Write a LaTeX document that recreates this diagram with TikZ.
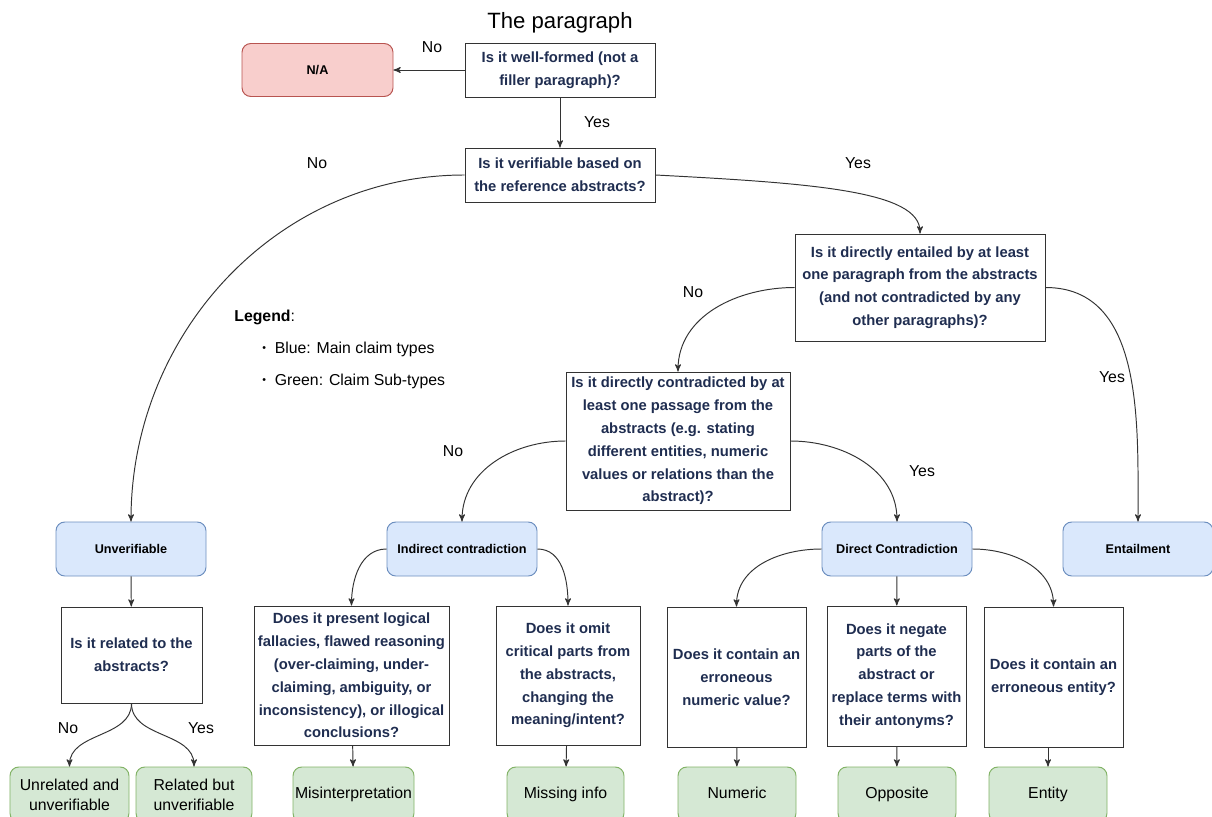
\documentclass[tikz,border=0pt]{standalone}
\usepackage{fontspec}
\setmainfont{Liberation Sans}
\usetikzlibrary{arrows,positioning}
\definecolor{qtext}{HTML}{1F2D50}
\definecolor{blueFill}{HTML}{DAE8FC}
\definecolor{blueLine}{HTML}{6C8EBF}
\definecolor{greenFill}{HTML}{D5E8D4}
\definecolor{greenLine}{HTML}{82B366}
\definecolor{redFill}{HTML}{F8CECC}
\definecolor{redLine}{HTML}{B85450}
\definecolor{edgeGray}{HTML}{333333}

\begin{document}
\begin{tikzpicture}[>=stealth', line width=0.55pt, draw=edgeGray,
    question/.style={draw=edgeGray, rectangle, inner sep=1pt, align=center, text=qtext, font=\fontsize{8.4}{13}\selectfont\bfseries},
    claim/.style={draw=blueLine, fill=blueFill, rectangle, rounded corners=5pt, minimum width=3.0cm, minimum height=1.08cm, align=center, font=\fontsize{7.2}{9}\selectfont\bfseries},
    subtype/.style={draw=greenLine, fill=greenFill, rectangle, rounded corners=5pt, minimum width=2.36cm, minimum height=1.1cm, align=center, inner sep=1pt, font=\fontsize{9}{11.3}\selectfont},
    lbl/.style={font=\fontsize{9}{11}\selectfont},
    legtext/.style={anchor=west, font=\fontsize{9}{11}\selectfont}]
    \useasboundingbox (0,0) rectangle (24.24,-16.34);
    % Title
    \node[font=\fontsize{12.6}{15}\selectfont] (title) at (11.2, -0.46) {The paragraph};
    % Top questions
    \node[question, minimum width=3.8cm, minimum height=1.08cm] (q1) at (11.2, -1.4) {Is it well-formed (not a\\filler paragraph)?};
    \node[draw=redLine, fill=redFill, rectangle, rounded corners=5pt, minimum width=3.02cm, minimum height=1.06cm, font=\fontsize{7.2}{9}\selectfont\bfseries] (na) at (6.35, -1.4) {N/A};
    \node[question, minimum width=3.8cm, minimum height=1.08cm] (q2) at (11.2, -3.5) {Is it verifiable based on\\the reference abstracts?};
    \node[question, minimum width=5.0cm, minimum height=2.14cm] (q3) at (18.4, -5.75) {Is it directly entailed by at least\\one paragraph from the abstracts\\(and not contradicted by any\\other paragraphs)?};
    \node[question, minimum width=4.48cm, minimum height=2.76cm] (q4) at (13.56, -8.82) {Is it directly contradicted by at\\least one passage from the\\abstracts (e.g. stating\\different entities, numeric\\values or relations than the\\abstract)?};
    % Legend
    \node[legtext] (legend) at (4.56, -6.34) {\textbf{Legend}:};
    \node[legtext] (legblue) at (5.12, -6.98) {\raisebox{0.2ex}{\fontsize{6}{6}\selectfont\textbullet}\hspace{5pt}Blue: Main claim types};
    \node[legtext] (leggreen) at (5.12, -7.62) {\raisebox{0.2ex}{\fontsize{6}{6}\selectfont\textbullet}\hspace{5pt}Green: Claim Sub-types};
    % Main claim types
    \node[claim] (unver) at (2.62, -10.98) {Unverifiable};
    \node[claim] (indirect) at (9.24, -10.98) {Indirect contradiction};
    \node[claim] (direct) at (17.94, -10.98) {Direct Contradiction};
    \node[claim] (entail) at (22.76, -10.98) {Entailment};
    % Sub-type questions
    \node[question, minimum width=2.82cm, minimum height=1.92cm] (q5) at (2.63, -13.1) {Is it related to the\\abstracts?};
    \node[question, minimum width=3.9cm, minimum height=2.78cm] (q6) at (7.03, -13.51) {Does it present logical\\fallacies, flawed reasoning\\(over-claiming, under-\\claiming, ambiguity, or\\inconsistency), or illogical\\conclusions?};
    \node[question, minimum width=2.88cm, minimum height=2.78cm] (q7) at (11.36, -13.51) {Does it omit\\critical parts from\\the abstracts,\\changing the\\meaning/intent?};
    \node[question, minimum width=2.78cm, minimum height=2.8cm] (q8) at (14.73, -13.54) {Does it contain an\\erroneous\\numeric value?};
    \node[question, minimum width=2.78cm, minimum height=2.8cm] (q9) at (17.93, -13.52) {Does it negate\\parts of the\\abstract or\\replace terms with\\their antonyms?};
    \node[question, minimum width=2.78cm, minimum height=2.8cm] (q10) at (21.07, -13.54) {Does it contain an\\erroneous entity?};
    % Claim sub-types
    \node[subtype, minimum width=2.38cm] (unrel) at (1.39, -15.89) {Unrelated and\\unverifiable};
    \node[subtype, minimum width=2.32cm] (rel) at (3.88, -15.89) {Related but\\unverifiable};
    \node[subtype, minimum width=2.42cm] (misint) at (7.07, -15.89) {Misinterpretation\strut};
    \node[subtype, minimum width=2.34cm] (missing) at (11.31, -15.89) {Missing info\strut};
    \node[subtype] (numeric) at (14.74, -15.89) {Numeric\strut};
    \node[subtype] (opposite) at (17.94, -15.89) {Opposite\strut};
    \node[subtype] (entity) at (20.96, -15.89) {Entity\strut};
    % Yes / No labels
    \node[lbl] (noNA) at (8.64, -0.94) {No};
    \node[lbl] (yesQ2) at (11.94, -2.44) {Yes};
    \node[lbl] (noQ2) at (6.34, -3.26) {No};
    \node[lbl] (yesQ2r) at (17.16, -3.26) {Yes};
    \node[lbl] (noQ3) at (13.86, -5.84) {No};
    \node[lbl] (yesQ3) at (22.24, -7.54) {Yes};
    \node[lbl] (noQ4) at (9.06, -9.02) {No};
    \node[lbl] (yesQ4) at (18.44, -9.42) {Yes};
    \node[lbl] (noQ5) at (1.36, -14.56) {No};
    \node[lbl] (yesQ5) at (4.02, -14.56) {Yes};
    % Connecting Arrows
    \draw[->] (q1) -- (na);
    \draw[->] (q1) -- (q2);
    \draw[->] (q2.west) to[out=180, in=90] (unver.north);
    \draw[->] (q2.east) to[out=-3, in=90, out looseness=1.5, in looseness=0.4] (q3.north);
    \draw[->] (q3.west) to[out=180, in=90] (q4.north);
    \draw[->] (q3.east) to[out=0, in=90] (entail.north);
    \draw[->] (q4.west) to[out=180, in=90] (indirect.north);
    \draw[->] (q4.east) to[out=0, in=90] (direct.north);
    \draw[->] (unver) -- (q5);
    \draw[->] (indirect.west) to[out=180, in=90] (q6.north);
    \draw[->] (indirect.east) to[out=0, in=90] (q7.north);
    \draw[->] (direct.west) to[out=180, in=90] (q8.north);
    \draw[->] (direct) -- (q9);
    \draw[->] (direct.east) to[out=0, in=90] (q10.north);
    \draw[->] (q5.south) to[out=-90, in=90] (unrel.north);
    \draw[->] (q5.south) to[out=-90, in=90] (rel.north);
    \draw[->] (q6) -- (misint);
    \draw[->] (q7) -- (missing);
    \draw[->] (q8) -- (numeric);
    \draw[->] (q9) -- (opposite);
    \draw[->] (entity.north |- q10.south) -- (entity.north);
\end{tikzpicture}
\end{document}
